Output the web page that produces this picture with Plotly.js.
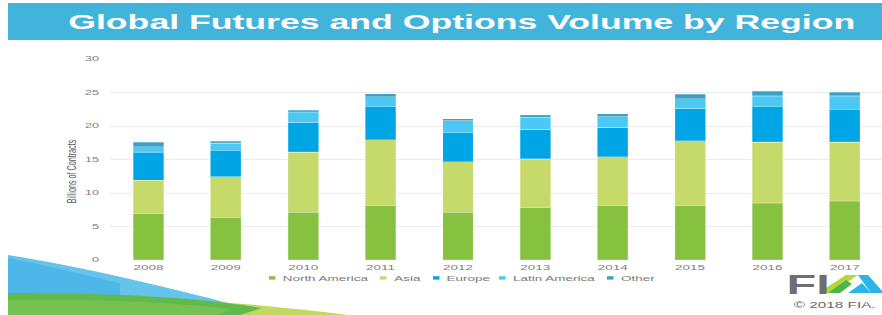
<!DOCTYPE html>
<html>
<head>
<meta charset="utf-8">
<script src="https://cdn.plot.ly/plotly-3.0.1.min.js"></script>
<style>
html,body{margin:0;padding:0;background:#fff;overflow:hidden;width:882px;height:315px}
#wrap{width:490px;height:315px;transform:scaleX(1.8);transform-origin:0 0}
</style>
</head>
<body>
<div id="wrap"></div>
<script>
// ---- data (billions of contracts) ----
const years = ['2008','2009','2010','2011','2012','2013','2014','2015','2016','2017'];
const seriesNames = ['North America','Asia','Europe','Latin America','Other'];
const northAmerica = [6.9, 6.3, 7.1, 8.1, 7.1, 7.8, 8.1, 8.1, 8.5, 8.8];
const asia         = [5.0, 6.15, 9.0, 9.85, 7.6, 7.3, 7.3, 9.7, 9.1, 8.8];
const europe       = [4.2, 3.9, 4.4, 4.95, 4.3, 4.4, 4.4, 4.8, 5.3, 4.9];
const latinAmerica = [0.8, 1.1, 1.6, 1.5, 1.8, 1.8, 1.6, 1.5, 1.6, 2.0];
const other        = [0.7, 0.3, 0.25, 0.45, 0.3, 0.35, 0.45, 0.65, 0.65, 0.55];
const yTicks = [0, 5, 10, 15, 20, 25, 30];
const titleText = 'Global Futures and Options Volume by Region';
const yTitleText = 'Billions of Contracts';
const creditText = '© 2018 FIA.';

// ---- styles ----
const seriesValues = [northAmerica, asia, europe, latinAmerica, other];
const colors = ['#86C240', '#C5DA6B', '#00A5E6', '#4CC8F4', '#3E9FC4'];
const S = 1.8;                     // horizontal stretch of the whole picture
const ML = 61, PW = 429, PT = 59, PB = 260, PH = 201;
const PX = x => (x / S - ML) / PW; // picture px -> paper
const PY = y => (PB - y) / PH;
const pt = p => PX(p[0]).toFixed(4) + ',' + PY(p[1]).toFixed(4);
const poly = pts => 'M' + pts.map(pt).join(' L') + ' Z';
const curve = (start, c1, c2, end, rest) =>
  'M' + pt(start) + ' C' + pt(c1) + ' ' + pt(c2) + ' ' + pt(end) +
  rest.map(p => ' L' + pt(p)).join('') + ' Z';

const FONT = 'Liberation Sans, Arial, Helvetica, sans-serif';

const traces = seriesNames.map((n, i) => ({
  type: 'bar', name: n, x: years, y: seriesValues[i],
  marker: {color: colors[i], line: {color: 'rgba(255,255,255,0.55)', width: 0.6}},
  hoverinfo: 'skip'
}));

const shapes = [];
const annotations = [];

// title banner
shapes.push({type: 'rect', xref: 'paper', yref: 'paper', layer: 'below',
  x0: PX(8), x1: PX(882), y0: PY(40), y1: PY(3),
  fillcolor: '#42B4DC', line: {width: 0}});
annotations.push({xref: 'paper', yref: 'paper', x: PX(461), y: PY(22),
  xanchor: 'center', yanchor: 'middle', showarrow: false, text: titleText,
  font: {family: FONT, size: 19.8, color: '#ffffff', weight: 'bold'}});

// y title
annotations.push({xref: 'paper', yref: 'paper', x: PX(71.5), y: PY(171.5),
  xanchor: 'center', yanchor: 'middle', showarrow: false, textangle: -90,
  text: yTitleText, font: {family: FONT, size: 7.2, color: '#595959'}});

// legend (markers + labels)
const legendTextX = [279, 390, 443, 509, 617];
seriesNames.forEach((n, i) => {
  shapes.push({type: 'rect', xref: 'paper', yref: 'paper',
    x0: PX(legendTextX[i] - 10), x1: PX(legendTextX[i] - 3.5),
    y0: PY(279.6), y1: PY(276.2), fillcolor: colors[i], line: {width: 0}});
  annotations.push({xref: 'paper', yref: 'paper', x: PX(legendTextX[i]), y: PY(278),
    xanchor: 'left', yanchor: 'middle', showarrow: false, text: n,
    font: {family: FONT, size: 7.5, color: '#7a7a7a'}});
});

// bottom-left waves
shapes.push({type: 'path', xref: 'paper', yref: 'paper', layer: 'below',
  path: curve([8,255],[90,268],[170,288],[232,304],[[232,315],[8,315]]),
  fillcolor: '#66C3EC', line: {width: 0}});
shapes.push({type: 'path', xref: 'paper', yref: 'paper', layer: 'below',
  path: curve([8,258],[45,265],[80,274],[120,283],[[120,315],[8,315]]),
  fillcolor: 'rgba(30,160,225,0.35)', line: {width: 0}});
shapes.push({type: 'path', xref: 'paper', yref: 'paper', layer: 'below',
  path: curve([190,300],[250,304],[300,309],[345,314.5],[[345,315],[190,315]]),
  fillcolor: '#C3D95E', line: {width: 0}});
shapes.push({type: 'path', xref: 'paper', yref: 'paper', layer: 'below',
  path: curve([8,293],[100,293],[190,296],[262,308],[[240,315],[8,315]]),
  fillcolor: '#62BA4C', line: {width: 0}});
shapes.push({type: 'path', xref: 'paper', yref: 'paper', layer: 'below',
  path: curve([8,300],[90,299],[170,302],[230,309],[[220,315],[8,315]]),
  fillcolor: 'rgba(140,205,90,0.45)', line: {width: 0}});

// FIA logo
annotations.push({xref: 'paper', yref: 'paper', x: PX(783), y: PY(284.5),
  xanchor: 'left', yanchor: 'middle', showarrow: false, text: 'FI',
  font: {family: 'Liberation Sans Narrow, Liberation Sans, Arial, sans-serif', size: 27, color: '#6D6E71', weight: 'bold'}});
shapes.push({type: 'path', xref: 'paper', yref: 'paper',
  path: poly([[818,293],[831,293],[858,275],[846,275]]), fillcolor: '#B9D43A', line: {width: 0}});
shapes.push({type: 'path', xref: 'paper', yref: 'paper',
  path: poly([[828,293],[840,293],[852,284],[846,280]]), fillcolor: '#4FB748', line: {width: 0}});
shapes.push({type: 'path', xref: 'paper', yref: 'paper',
  path: poly([[858,275],[868,275],[884,293],[871,293]]), fillcolor: '#2DB4E8', line: {width: 0}});
shapes.push({type: 'path', xref: 'paper', yref: 'paper',
  path: poly([[848,293],[871,293],[862,283]]), fillcolor: '#2DB4E8', line: {width: 0}});

// credit
annotations.push({xref: 'paper', yref: 'paper', x: PX(878), y: PY(305),
  xanchor: 'right', yanchor: 'middle', showarrow: false, text: creditText,
  font: {family: FONT, size: 8.5, color: '#6a6a6a'}});

const layout = {
  width: 490, height: 315,
  margin: {l: ML, r: 0, t: PT, b: 315 - PB},
  paper_bgcolor: '#ffffff', plot_bgcolor: '#ffffff',
  barmode: 'stack', bargap: 0.6, showlegend: false,
  font: {family: FONT},
  xaxis: {type: 'category', range: [-0.5, 9.48], showgrid: false, zeroline: false,
    showline: false, ticks: '', ticklabelstandoff: 2,
    tickfont: {family: FONT, size: 7.5, color: '#808080'}},
  yaxis: {range: [0, 30], tickvals: yTicks, gridcolor: '#ebebeb', gridwidth: 1,
    zeroline: false, showline: false, ticks: '', ticklabelstandoff: 5,
    tickfont: {family: FONT, size: 7, color: '#808080'}},
  shapes: shapes, annotations: annotations
};

Plotly.newPlot('wrap', traces, layout, {staticPlot: true, displayModeBar: false});
</script>
</body>
</html>
